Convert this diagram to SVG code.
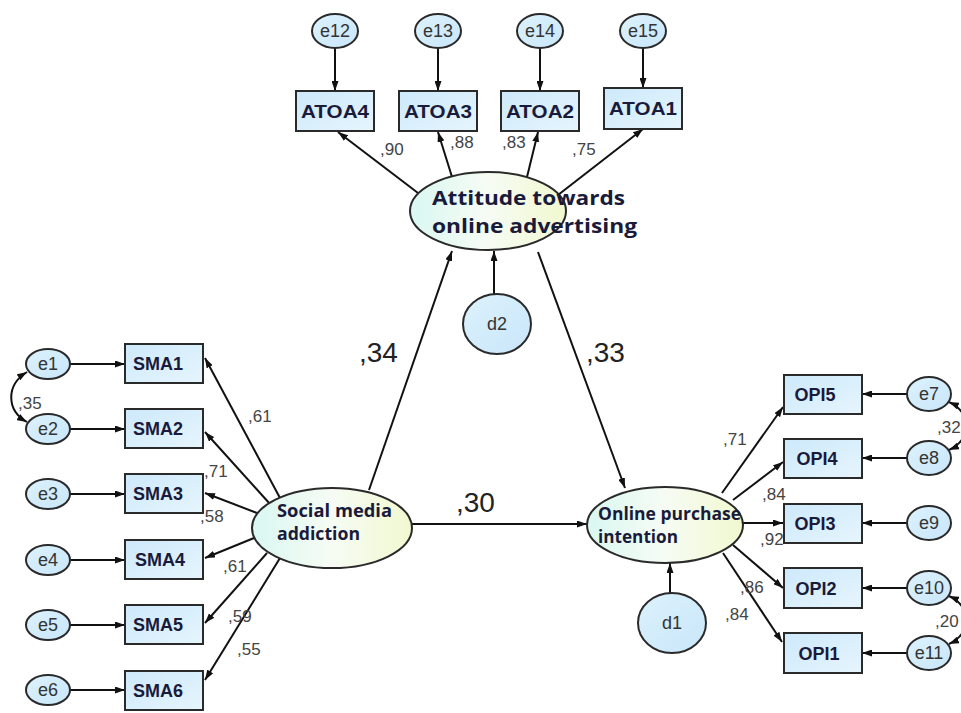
<svg xmlns="http://www.w3.org/2000/svg" width="961" height="713" viewBox="0 0 961 713">
<defs>
<linearGradient id="boxg" x1="0" y1="0" x2="1" y2="1"><stop offset="0" stop-color="#cde9fb"/><stop offset="1" stop-color="#e6f5fd"/></linearGradient>
<linearGradient id="circg" x1="0" y1="0" x2="1" y2="1"><stop offset="0" stop-color="#ddf2fd"/><stop offset="1" stop-color="#c8e6f9"/></linearGradient>
<linearGradient id="latg" x1="0" y1="0" x2="1" y2="0"><stop offset="0" stop-color="#d9f7f1"/><stop offset="0.5" stop-color="#f6fcf4"/><stop offset="1" stop-color="#f1f8cf"/></linearGradient>
<marker id="ah" viewBox="0 0 10 7" markerWidth="10" markerHeight="7" refX="10" refY="3.5" orient="auto-start-reverse" markerUnits="userSpaceOnUse"><path d="M0,0 L10,3.5 L0,7 z" fill="#111"/></marker>
<style>
.box{fill:url(#boxg);stroke:#2a2a2a;stroke-width:2}
.err{fill:url(#circg);stroke:#2a2a2a;stroke-width:2}
.lat{fill:url(#latg);stroke:#2a2a2a;stroke-width:2}
.bl{font-family:"Liberation Sans",Arial,sans-serif;font-weight:bold;font-size:18px;fill:#1a1a3a;text-anchor:middle}
.ll{font-family:"Open Sans","Noto Sans",sans-serif;font-weight:bold;fill:#1a1a3a}
.el{font-family:"Liberation Sans",Arial,sans-serif;font-size:18px;fill:#333;text-anchor:middle}
.cf{font-family:"Liberation Sans",Arial,sans-serif;font-size:17px;fill:#444}
.cb{font-family:"Liberation Sans",Arial,sans-serif;font-size:28px;fill:#222}
.cn line,.cn path{stroke:#111;stroke-width:2;fill:none;marker-end:url(#ah)}
.cn path.cov{marker-start:url(#ah)}
</style>
</defs>
<rect width="961" height="713" fill="#fff"/>

<g class="cn" id="connectors">
<line x1="335" y1="48" x2="335" y2="91"/>
<line x1="438" y1="48" x2="438" y2="91"/>
<line x1="540" y1="48" x2="540" y2="91"/>
<line x1="643" y1="48" x2="643" y2="88"/>
<line x1="418" y1="193" x2="338" y2="132"/>
<line x1="452" y1="177" x2="438" y2="132"/>
<line x1="527" y1="177" x2="538" y2="132"/>
<line x1="558" y1="195" x2="643" y2="129"/>
<line x1="494" y1="294" x2="494" y2="251"/>
<line x1="70" y1="364" x2="125" y2="364"/>
<line x1="70" y1="429" x2="125" y2="429"/>
<line x1="70" y1="494" x2="125" y2="494"/>
<line x1="70" y1="560" x2="125" y2="560"/>
<line x1="70" y1="625" x2="125" y2="625"/>
<line x1="70" y1="690" x2="125" y2="690"/>
<path class="cov" d="M27,372 C6,385 6,410 27,422"/>
<line x1="280" y1="498" x2="205" y2="358"/>
<line x1="270" y1="504" x2="205" y2="432"/>
<line x1="257" y1="513" x2="205" y2="493"/>
<line x1="254" y1="538" x2="205" y2="558"/>
<line x1="267" y1="553" x2="205" y2="623"/>
<line x1="280" y1="558" x2="205" y2="680"/>
<line x1="369" y1="490" x2="452" y2="251"/>
<line x1="538" y1="252" x2="625" y2="488"/>
<line x1="412" y1="524" x2="587" y2="524"/>
<line x1="670" y1="593" x2="670" y2="563"/>
<line x1="722" y1="493" x2="783" y2="407"/>
<line x1="733" y1="500" x2="783" y2="462"/>
<line x1="743" y1="523" x2="783" y2="523"/>
<line x1="733" y1="545" x2="783" y2="588"/>
<line x1="723" y1="553" x2="782" y2="642"/>
<line x1="907" y1="394" x2="862" y2="394"/>
<line x1="907" y1="458" x2="862" y2="458"/>
<line x1="907" y1="523" x2="862" y2="523"/>
<line x1="907" y1="588" x2="862" y2="588"/>
<line x1="907" y1="653" x2="862" y2="653"/>
<path class="cov" d="M949,402 C972,412 972,440 949,450"/>
<path class="cov" d="M949,596 C972,606 972,634 949,644"/>
</g>

<g id="coef">
<text class="cf" x="380" y="155">,90</text>
<text class="cf" x="450" y="148">,88</text>
<text class="cf" x="502" y="148">,83</text>
<text class="cf" x="572" y="155">,75</text>
<text class="cf" x="18" y="409">,35</text>
<text class="cf" x="248" y="422">,61</text>
<text class="cf" x="204" y="477">,71</text>
<text class="cf" x="200" y="522">,58</text>
<text class="cf" x="223" y="572">,61</text>
<text class="cf" x="228" y="622">,59</text>
<text class="cf" x="237" y="655">,55</text>
<text class="cf" x="723" y="445">,71</text>
<text class="cf" x="762" y="500">,84</text>
<text class="cf" x="760" y="545">,92</text>
<text class="cf" x="740" y="593">,86</text>
<text class="cf" x="725" y="620">,84</text>
<text class="cf" x="937" y="433">,32</text>
<text class="cf" x="935" y="627">,20</text>
<text class="cb" x="359" y="362">,34</text>
<text class="cb" x="586" y="362">,33</text>
<text class="cb" x="456" y="512">,30</text>
</g>

<g id="e12"><ellipse class="err" cx="335" cy="31" rx="23" ry="17"/><text class="el" x="335" y="37">e12</text></g>
<g id="e13"><ellipse class="err" cx="438" cy="31" rx="23" ry="17"/><text class="el" x="438" y="37">e13</text></g>
<g id="e14"><ellipse class="err" cx="540" cy="31" rx="23" ry="17"/><text class="el" x="540" y="37">e14</text></g>
<g id="e15"><ellipse class="err" cx="643" cy="31" rx="23" ry="17"/><text class="el" x="643" y="37">e15</text></g>

<g id="ATOA4"><rect class="box" x="296" y="91" width="78" height="40"/><text class="bl" x="335" y="118" textLength="68" lengthAdjust="spacingAndGlyphs">ATOA4</text></g>
<g id="ATOA3"><rect class="box" x="399" y="91" width="78" height="40"/><text class="bl" x="438" y="118" textLength="68" lengthAdjust="spacingAndGlyphs">ATOA3</text></g>
<g id="ATOA2"><rect class="box" x="501" y="91" width="78" height="40"/><text class="bl" x="540" y="118" textLength="68" lengthAdjust="spacingAndGlyphs">ATOA2</text></g>
<g id="ATOA1"><rect class="box" x="604" y="88" width="78" height="41"/><text class="bl" x="643" y="115" textLength="68" lengthAdjust="spacingAndGlyphs">ATOA1</text></g>

<g id="attitude"><ellipse class="lat" cx="488" cy="211" rx="78" ry="39"/>
<text class="ll" font-size="20" x="432" y="205" textLength="193" lengthAdjust="spacingAndGlyphs">Attitude towards</text>
<text class="ll" font-size="20" x="432" y="233" textLength="205" lengthAdjust="spacingAndGlyphs">online advertising</text></g>

<g id="d2"><ellipse class="err" cx="497" cy="324" rx="34" ry="30"/><text class="el" x="497" y="330">d2</text></g>

<g id="e1"><ellipse class="err" cx="48" cy="364" rx="22" ry="15"/><text class="el" x="48" y="370">e1</text></g>
<g id="e2"><ellipse class="err" cx="48" cy="429" rx="22" ry="15"/><text class="el" x="48" y="435">e2</text></g>
<g id="e3"><ellipse class="err" cx="48" cy="494" rx="22" ry="15"/><text class="el" x="48" y="500">e3</text></g>
<g id="e4"><ellipse class="err" cx="48" cy="560" rx="22" ry="15"/><text class="el" x="48" y="566">e4</text></g>
<g id="e5"><ellipse class="err" cx="48" cy="625" rx="22" ry="15"/><text class="el" x="48" y="631">e5</text></g>
<g id="e6"><ellipse class="err" cx="48" cy="690" rx="22" ry="15"/><text class="el" x="48" y="696">e6</text></g>

<g id="SMA1"><rect class="box" x="125" y="344" width="78" height="39"/><text class="bl" x="158" y="370">SMA1</text></g>
<g id="SMA2"><rect class="box" x="125" y="409" width="78" height="39"/><text class="bl" x="158" y="435">SMA2</text></g>
<g id="SMA3"><rect class="box" x="125" y="474" width="78" height="39"/><text class="bl" x="158" y="500">SMA3</text></g>
<g id="SMA4"><rect class="box" x="125" y="540" width="78" height="39"/><text class="bl" x="160" y="566">SMA4</text></g>
<g id="SMA5"><rect class="box" x="125" y="605" width="78" height="39"/><text class="bl" x="158" y="631">SMA5</text></g>
<g id="SMA6"><rect class="box" x="125" y="671" width="78" height="39"/><text class="bl" x="158" y="697">SMA6</text></g>

<g id="sma"><ellipse class="lat" cx="332" cy="528" rx="80" ry="40"/>
<text class="ll" font-size="17" x="277" y="517" textLength="115" lengthAdjust="spacingAndGlyphs">Social media</text>
<text class="ll" font-size="17" x="277" y="540" textLength="83" lengthAdjust="spacingAndGlyphs">addiction</text></g>

<g id="opi"><ellipse class="lat" cx="665" cy="525" rx="78" ry="38"/>
<text class="ll" font-size="17" x="598" y="520" textLength="143" lengthAdjust="spacingAndGlyphs">Online purchase</text>
<text class="ll" font-size="17" x="598" y="543" textLength="80" lengthAdjust="spacingAndGlyphs">intention</text></g>

<g id="d1"><ellipse class="err" cx="672" cy="623" rx="34" ry="30"/><text class="el" x="672" y="629">d1</text></g>

<g id="OPI5"><rect class="box" x="784" y="375" width="78" height="39"/><text class="bl" x="815" y="401">OPI5</text></g>
<g id="OPI4"><rect class="box" x="784" y="439" width="78" height="39"/><text class="bl" x="817" y="465">OPI4</text></g>
<g id="OPI3"><rect class="box" x="784" y="504" width="78" height="39"/><text class="bl" x="815" y="530">OPI3</text></g>
<g id="OPI2"><rect class="box" x="784" y="568" width="78" height="40"/><text class="bl" x="816" y="595">OPI2</text></g>
<g id="OPI1"><rect class="box" x="784" y="633" width="78" height="40"/><text class="bl" x="819" y="660">OPI1</text></g>

<g id="e7"><ellipse class="err" cx="929" cy="394" rx="22" ry="17"/><text class="el" x="929" y="400">e7</text></g>
<g id="e8"><ellipse class="err" cx="929" cy="458" rx="22" ry="17"/><text class="el" x="929" y="464">e8</text></g>
<g id="e9"><ellipse class="err" cx="929" cy="523" rx="22" ry="17"/><text class="el" x="929" y="529">e9</text></g>
<g id="e10"><ellipse class="err" cx="929" cy="588" rx="22" ry="17"/><text class="el" x="929" y="594">e10</text></g>
<g id="e11"><ellipse class="err" cx="929" cy="653" rx="22" ry="17"/><text class="el" x="929" y="659">e11</text></g>
</svg>
